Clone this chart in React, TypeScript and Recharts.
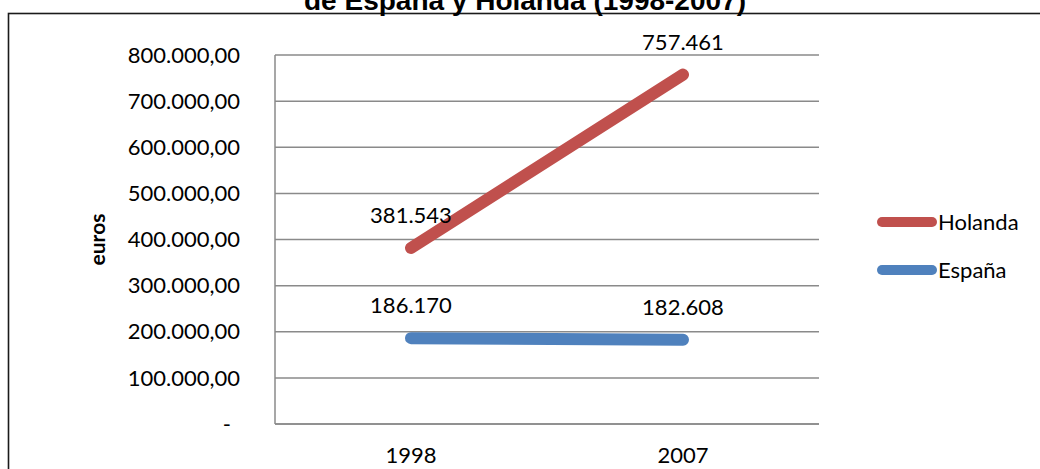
import { CartesianGrid, LabelList, Legend, Line, LineChart, XAxis, YAxis } from "recharts";

const years = ["1998", "2007"];
const holanda = [381543, 757461];
const espana = [186170, 182608];
const seriesOrder = ["Holanda", "España"];
const yTicks = [0, 100000, 200000, 300000, 400000, 500000, 600000, 700000, 800000];

const data = years.map((year, i) => ({
  year,
  Holanda: holanda[i],
  España: espana[i],
}));

const FONT = "Lato, 'Open Sans', sans-serif";
const GRID = "#8a8a8a";

function thousands(n: number) {
  return Math.round(n)
    .toString()
    .replace(/\B(?=(\d{3})+(?!\d))/g, ".");
}

function axisLabel(n: number) {
  return n === 0 ? "-" : `${thousands(n)},00`;
}

function YTick(props: any) {
  const { x, y, payload } = props;
  const v = payload.value as number;
  return (
    <text
      x={v === 0 ? x - 9 : x}
      y={y}
      dy="0.35em"
      textAnchor="end"
      fontFamily={FONT}
      fontSize={22}
      fill="#000"
    >
      {axisLabel(v)}
    </text>
  );
}

function EurosLabel(props: any) {
  const { viewBox } = props;
  const x = 96;
  const y = viewBox.y + viewBox.height / 2;
  return (
    <text
      x={x}
      y={y}
      transform={`rotate(-90 ${x} ${y})`}
      textAnchor="middle"
      dominantBaseline="central"
      fontFamily={FONT}
      fontWeight="bold"
      fontSize={21}
      fill="#000"
    >
      euros
    </text>
  );
}

function LegendBox(props: any) {
  const payload = [...(props.payload || [])].sort(
    (a: any, b: any) => seriesOrder.indexOf(a.value) - seriesOrder.indexOf(b.value)
  );
  return (
    <div style={{ fontFamily: FONT, fontSize: 22, color: "#000" }}>
      {payload.map((entry: any) => (
        <div
          key={entry.value}
          style={{ display: "flex", alignItems: "center", height: 48 }}
        >
          <div
            style={{
              width: 60,
              height: 10,
              borderRadius: 5,
              background: entry.color,
              marginRight: 1,
            }}
          />
          <span style={{ lineHeight: "22px" }}>{entry.value}</span>
        </div>
      ))}
    </div>
  );
}

export default function App() {
  return (
    <div
      style={{
        position: "absolute",
        left: 0,
        top: 0,
        width: 1040,
        height: 469,
        overflow: "hidden",
        background: "#fff",
      }}
    >
      <svg
        width={1040}
        height={469}
        style={{ position: "absolute", left: 0, top: 0 }}
      >
        <rect
          x={8.5}
          y={13.5}
          width={1100}
          height={600}
          fill="none"
          stroke="#1a1a1a"
          strokeWidth={1.6}
        />
        <text
          x={525}
          y={9.5}
          textAnchor="middle"
          fontFamily="'Liberation Sans', Arial, sans-serif"
          fontWeight="bold"
          fontSize={28}
          fill="#000"
        >
          de España y Holanda (1998-2007)
        </text>
      </svg>
      <div style={{ position: "absolute", left: 0, top: 0 }}>
        <LineChart
          width={1040}
          height={469}
          data={data}
          margin={{ top: 55, right: 221, bottom: 0, left: 0 }}
        >
          <CartesianGrid horizontal vertical={false} stroke={GRID} strokeWidth={1.5} />
          <XAxis
            dataKey="year"
            height={45}
            padding={{ left: 136, right: 136 }}
            tickLine={false}
            tickSize={0}
            tickMargin={23}
            axisLine={{ stroke: GRID, strokeWidth: 1.5 }}
            tick={{ fill: "#000", fontSize: 22, fontFamily: FONT }}
          />
          <YAxis
            width={275}
            domain={[0, 800000]}
            ticks={yTicks}
            interval={0}
            tickLine={false}
            tickSize={0}
            tickMargin={35}
            axisLine={{ stroke: GRID, strokeWidth: 1.5 }}
            tick={<YTick />}
            label={<EurosLabel />}
          />
          <Legend
            layout="vertical"
            align="center"
            verticalAlign="middle"
            content={<LegendBox />}
            wrapperStyle={{ left: 877, top: 198, width: 163 }}
          />
          <Line
            dataKey="Holanda"
            stroke="#C0504D"
            strokeWidth={12}
            strokeLinecap="round"
            dot={false}
            isAnimationActive={false}
          >
            <LabelList
              dataKey="Holanda"
              position="top"
              offset={25}
              formatter={(v: any) => thousands(Number(v))}
              fill="#000"
              fontSize={22}
              fontFamily={FONT}
            />
          </Line>
          <Line
            dataKey="España"
            stroke="#4F81BD"
            strokeWidth={12}
            strokeLinecap="round"
            dot={false}
            isAnimationActive={false}
          >
            <LabelList
              dataKey="España"
              position="top"
              offset={25}
              formatter={(v: any) => thousands(Number(v))}
              fill="#000"
              fontSize={22}
              fontFamily={FONT}
            />
          </Line>
        </LineChart>
      </div>
    </div>
  );
}
